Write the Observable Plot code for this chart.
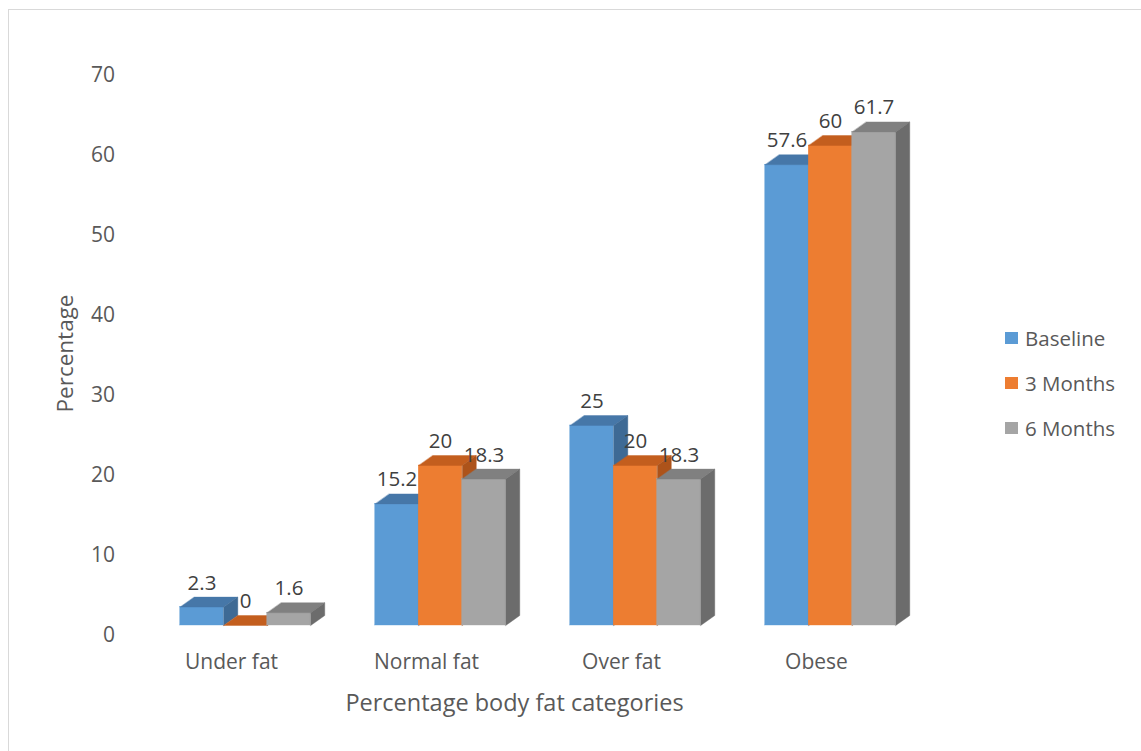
<!DOCTYPE html>
<html><head><meta charset="utf-8">
<script src="https://cdn.jsdelivr.net/npm/d3@7"></script>
<script src="https://cdn.jsdelivr.net/npm/@observablehq/plot@0.6"></script>
<style>
body{margin:0;background:#fff;font-family:"Open Sans",sans-serif;}
#wrap{position:relative;width:1141px;height:751px;overflow:hidden;background:#fff;}
#frame{position:absolute;left:8px;top:9px;width:1300px;height:900px;border-left:1.5px solid #d9d9d9;border-top:1.5px solid #d9d9d9;pointer-events:none;}
#chart{position:absolute;left:0;top:0;}
#legend{position:absolute;left:1005px;top:315px;font-size:20.5px;color:#595959;}
#legend .row{display:flex;align-items:center;height:45px;}
#legend .sw{width:13px;height:12px;margin-right:7px;}
</style>
</head><body>
<div id="wrap"><div id="chart"></div><div id="legend"></div><div id="frame"></div></div>
<script>
const categories = ["Under fat", "Normal fat", "Over fat", "Obese"];
const seriesNames = ["Baseline", "3 Months", "6 Months"];
const baseline = [2.3, 15.2, 25, 57.6];
const months3 = [0, 20, 20, 60];
const months6 = [1.6, 18.3, 18.3, 61.7];
const yTicks = [0, 10, 20, 30, 40, 50, 60, 70];
const frontColors = ["#5B9BD5", "#ED7D31", "#A5A5A5"];
const topColors = ["#4677A8", "#C35E1E", "#808080"];
const sideColors = ["#3E6A95", "#AD531A", "#6C6C6C"];

const seriesValues = [baseline, months3, months6];
const barW = 0.223;   // bar width in category units
const depthX = 0.072; // 3D depth offset (category units)
const depthY = 1.25;  // 3D depth offset (value units)

const marks = [];
seriesValues.forEach((vals, s) => {
  const bars = vals.map((v, i) => {
    const x1 = i + (s - 1.5) * barW;
    return {cat: categories[i], series: seriesNames[s], value: v, x1, x2: x1 + barW, xc: x1 + barW / 2};
  });
  const topPts = [], sidePts = [];
  bars.forEach((b, i) => {
    topPts.push(
      {id: i, x: b.x1, y: b.value},
      {id: i, x: b.x2, y: b.value},
      {id: i, x: b.x2 + depthX, y: b.value + depthY},
      {id: i, x: b.x1 + depthX, y: b.value + depthY});
    sidePts.push(
      {id: i, x: b.x2, y: 0},
      {id: i, x: b.x2 + depthX, y: depthY},
      {id: i, x: b.x2 + depthX, y: b.value + depthY},
      {id: i, x: b.x2, y: b.value});
  });
  marks.push(
    Plot.rect(bars, {x1: "x1", x2: "x2", y1: 0, y2: "value", fill: frontColors[s], stroke: frontColors[s], strokeWidth: 0.4}),
    Plot.line(topPts, {x: "x", y: "y", z: "id", fill: topColors[s], stroke: topColors[s], strokeWidth: 0.4, curve: "linear-closed"}),
    Plot.line(sidePts, {x: "x", y: "y", z: "id", fill: sideColors[s], stroke: sideColors[s], strokeWidth: 0.4, curve: "linear-closed"})
  );
});

const labelData = [];
seriesValues.forEach((vals, s) => vals.forEach((v, i) => {
  labelData.push({xc: i + (s - 1) * barW, value: v});
}));

const chart = Plot.plot({
  width: 1141,
  height: 751,
  marginLeft: 147.5,
  marginRight: 213.5,
  marginTop: 65,
  marginBottom: 126,
  style: {fontFamily: "Open Sans, sans-serif", fontSize: "21px", color: "#595959", background: "transparent"},
  x: {type: "linear", domain: [-0.5, 3.5]},
  y: {domain: [0, 70]},
  marks: [
    ...marks,
    Plot.text(labelData, {x: "xc", y: "value", text: d => String(d.value), dy: -24, fill: "#404040", fontSize: 20.5}),
    Plot.axisY({ticks: yTicks, tickSize: 0, tickPadding: 33, dy: 10, label: null, fontSize: 21}),
    Plot.axisX({ticks: [0, 1, 2, 3], tickFormat: i => categories[i], tickSize: 0, tickPadding: 29, dx: -14, label: null, fontSize: 21}),
    Plot.text(["Percentage body fat categories"], {frameAnchor: "bottom", dx: -23.5, dy: 78, textAnchor: "middle", lineAnchor: "middle", fontSize: 23.5, fill: "#595959"}),
    Plot.text(["Percentage"], {frameAnchor: "left", rotate: -90, dx: -82.5, dy: 8, textAnchor: "middle", lineAnchor: "middle", fontSize: 22.5, fill: "#595959"})
  ]
});
document.getElementById("chart").appendChild(chart);

const legend = document.getElementById("legend");
seriesNames.forEach((name, s) => {
  const row = document.createElement("div");
  row.className = "row";
  const sw = document.createElement("div");
  sw.className = "sw";
  sw.style.background = frontColors[s];
  const t = document.createElement("span");
  t.textContent = name;
  row.appendChild(sw); row.appendChild(t);
  legend.appendChild(row);
});
</script>
</body></html>
